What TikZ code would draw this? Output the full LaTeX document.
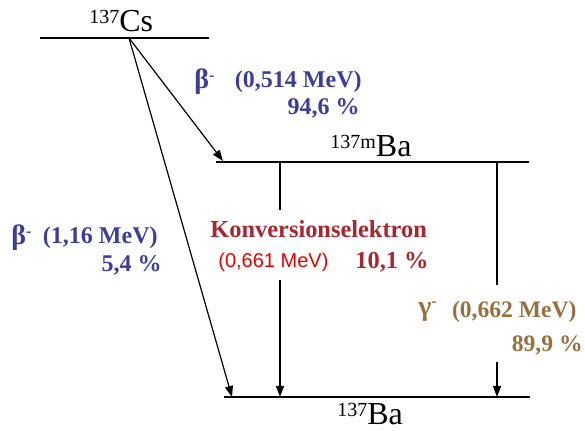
\documentclass[tikz,border=0pt]{standalone}
\usepackage{fontspec}
\setmainfont{Liberation Serif}
\newfontfamily\arialfont{Liberation Sans}
\usepackage{xcolor}
\usepackage{tikz}
\usetikzlibrary{arrows.meta,positioning}
\definecolor{BlauBeta}{RGB}{62,62,150}
\definecolor{RotKonv}{RGB}{168,38,48}
\definecolor{RotHell}{RGB}{228,0,0}
\definecolor{BraunGamma}{RGB}{150,112,62}
\newcommand{\hochzahl}[1]{\raisebox{4pt}{\fontsize{10}{11}\selectfont #1}}
\newcommand{\teilchen}[1]{{\fontsize{14}{14}\selectfont #1}\textsuperscript{-}}

\begin{document}
\begin{tikzpicture}[x=0.5pt,y=-0.5pt,>={Triangle[length=5.5pt,width=4pt]},
  niveau/.style={line width=0.7pt},
  uebergang/.style={->,line width=0.6pt},
  nuklid/.style={font=\fontsize{16}{18}\selectfont,inner sep=0pt},
  blautext/.style={text=BlauBeta,font=\bfseries\fontsize{12}{14}\selectfont,inner sep=0pt},
  rottext/.style={text=RotKonv,font=\bfseries\fontsize{12.2}{14}\selectfont,inner sep=0pt},
  helltext/.style={text=RotHell,font=\arialfont\fontsize{10}{12}\selectfont,inner sep=0pt},
  brauntext/.style={text=BraunGamma,font=\bfseries\fontsize{11.8}{13}\selectfont,inner sep=0pt}]
  \useasboundingbox (0,0) rectangle (585,431);

  % Niveaus
  \coordinate (csL) at (40,38);
  \coordinate (csR) at (209,38);
  \coordinate (cs0) at (129,38);
  \coordinate (bamL) at (216,162);
  \coordinate (bamR) at (529,162);
  \coordinate (baL) at (224,397);
  \coordinate (baR) at (530,397);
  \draw[niveau] (csL) -- (csR);
  \draw[niveau] (bamL) -- (bamR);
  \draw[niveau] (baL) -- (baR);

  \node[nuklid,anchor=base west] (cs) at (89,32) {\hochzahl{137}Cs};
  \node[nuklid,anchor=base west] (bam) at (330,157) {\hochzahl{137m}Ba};
  \node[nuklid,anchor=base west] (ba) at (337,425) {\hochzahl{137}Ba};

  % Zerfaelle
  \coordinate (bam0) at (223,161);
  \coordinate (ba0) at (232,397);
  \draw[uebergang] (cs0) -- (bam0);
  \draw[uebergang] (cs0) -- (ba0);

  % Konversion und gamma, durch die Beschriftung unterbrochen
  \coordinate (bamK) at (280,162);
  \coordinate (kOben) at (280,210);
  \coordinate (kUnten) at (280,280);
  \coordinate (baK) at (280,397);
  \draw[niveau] (bamK) -- (kOben);
  \draw[uebergang] (kUnten) -- (baK);
  \coordinate (bamG) at (497,162);
  \coordinate (gOben) at (497,285);
  \coordinate (gUnten) at (497,362);
  \coordinate (baG) at (497,397);
  \draw[niveau] (bamG) -- (gOben);
  \draw[uebergang] (gUnten) -- (baG);

  % Beschriftungen
  \node[blautext,anchor=west] (b1) at (194,82) {\teilchen{β}};
  \node[blautext,anchor=east] (e1) at (362,82) {(0,514 MeV)};
  \node[blautext,anchor=east] (p1) at (360,108) {94,6 \%};
  \node[blautext,anchor=west] (b2) at (11,238) {\teilchen{β}};
  \node[blautext,anchor=east] (e2) at (158,238) {(1,16 MeV)};
  \node[blautext,anchor=east] (p2) at (162,265) {5,4 \%};
  \node[rottext,anchor=west] (k) at (210,229) {Konversionselektron};
  \node[helltext,anchor=west] (ek) at (218,262) {(0,661 MeV)};
  \node[rottext,anchor=west] (pk) at (355,262) {10,1 \%};
  \node[brauntext,anchor=west] (g) at (418,312) {\teilchen{γ}};
  \node[brauntext,anchor=east] (eg) at (577,312) {(0,662 MeV)};
  \node[brauntext,anchor=east] (pg) at (583,345) {89,9 \%};
\end{tikzpicture}
\end{document}
